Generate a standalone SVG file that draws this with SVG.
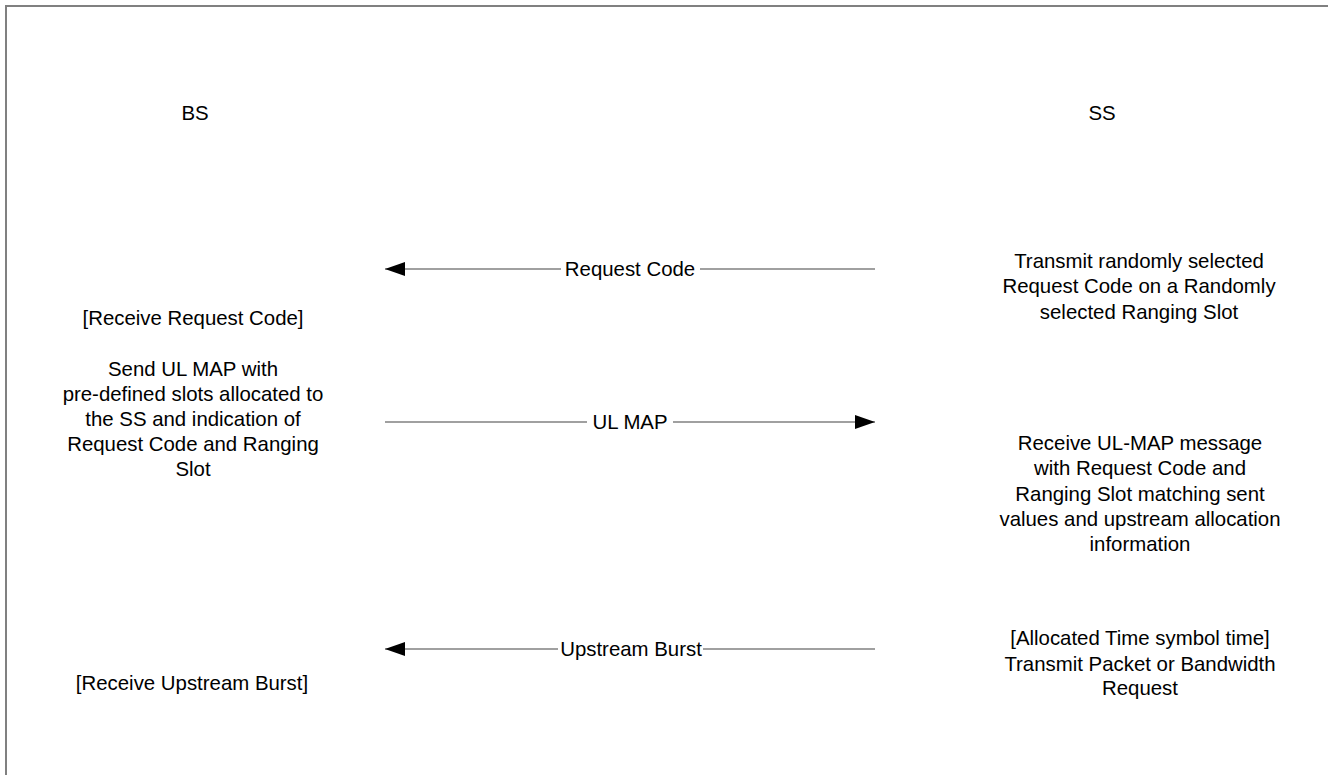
<svg xmlns="http://www.w3.org/2000/svg" width="1328" height="775" viewBox="0 0 1328 775">
<defs>
<style>
text{font-family:"Liberation Sans",Arial,sans-serif;font-size:20.4px;fill:#000;text-anchor:middle}
.ln{stroke:#808080;stroke-width:1.6;fill:none}
</style>
<marker id="ah" viewBox="0 0 20 14" refX="20" refY="7" markerWidth="20" markerHeight="14" markerUnits="userSpaceOnUse" orient="auto">
<path d="M0,0 L20,7 L0,14 Z" fill="#000"/>
</marker>
</defs>
<rect x="6" y="6" width="1400" height="900" fill="#fff" stroke="#808080" stroke-width="2"/>
<g id="bs"><text x="195" y="120">BS</text></g>
<g id="ss"><text x="1102" y="120">SS</text></g>
<g id="bs-recv-code"><text x="193" y="325">[Receive Request Code]</text></g>
<g id="bs-send-map">
<text x="193" y="376">Send UL MAP with</text>
<text x="193" y="401">pre-defined slots allocated to</text>
<text x="193" y="426">the SS and indication of</text>
<text x="193" y="451">Request Code and Ranging</text>
<text x="193" y="476">Slot</text>
</g>
<g id="bs-recv-burst"><text x="192" y="690">[Receive Upstream Burst]</text></g>
<g id="ss-transmit">
<text x="1139" y="268">Transmit randomly selected</text>
<text x="1139" y="293">Request Code on a Randomly</text>
<text x="1139" y="319">selected Ranging Slot</text>
</g>
<g id="ss-recv-map">
<text x="1140" y="450">Receive UL-MAP message</text>
<text x="1140" y="475">with Request Code and</text>
<text x="1140" y="501">Ranging Slot matching sent</text>
<text x="1140" y="526">values and upstream allocation</text>
<text x="1140" y="551">information</text>
</g>
<g id="ss-burst">
<text x="1140" y="645">[Allocated Time symbol time]</text>
<text x="1140" y="671">Transmit Packet or Bandwidth</text>
<text x="1140" y="695">Request</text>
</g>
<g id="connectors">
<path class="ln" d="M875,269 L700,269"/>
<path class="ln" d="M561,269 L385,269" marker-end="url(#ah)"/>
<text x="630" y="276">Request Code</text>
<path class="ln" d="M385,422 L587,422"/>
<path class="ln" d="M673,422 L875,422" marker-end="url(#ah)"/>
<text x="630" y="429">UL MAP</text>
<path class="ln" d="M875,649 L703,649"/>
<path class="ln" d="M558,649 L385,649" marker-end="url(#ah)"/>
<text x="631" y="656">Upstream Burst</text>
</g>
</svg>
